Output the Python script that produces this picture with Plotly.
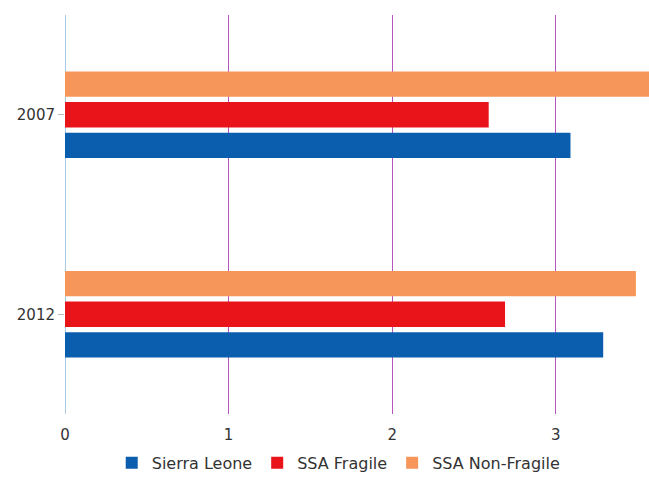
import plotly.graph_objects as go

years = ["2007", "2012"]
sierra_leone = [3.09, 3.29]
ssa_fragile = [2.59, 2.69]
ssa_non_fragile = [3.70, 3.49]

series = [
    ("Sierra Leone", sierra_leone, "#0B5DAE"),
    ("SSA Fragile", ssa_fragile, "#E8141A"),
    ("SSA Non-Fragile", ssa_non_fragile, "#F7965A"),
]

fig = go.Figure()
for name, vals, color in series:
    fig.add_trace(go.Bar(
        y=years, x=vals, name=name, orientation="h",
        marker=dict(color=color, line=dict(width=0)),
    ))

fig.update_layout(
    width=649, height=480,
    margin=dict(l=65, r=0, t=15, b=66),
    paper_bgcolor="white", plot_bgcolor="white",
    barmode="group", bargap=0.54, bargroupgap=0.17,
    font=dict(family="DejaVu Sans, sans-serif", size=14, color="#333333"),
    showlegend=True,
    legend=dict(orientation="h", x=0.08, xanchor="left", y=-0.08, yanchor="top",
                font=dict(size=16, color="#333333"), itemwidth=30),
    xaxis=dict(
        range=[0, 3.57], dtick=1, tick0=0,
        showgrid=True, gridcolor="#B655BE", gridwidth=1.3,
        zeroline=True, zerolinecolor="#A9CBEA", zerolinewidth=1.3,
        showline=False, ticks="outside", ticklen=7, tickcolor="rgba(0,0,0,0)",
        tickfont=dict(size=15),
        fixedrange=True,
    ),
    yaxis=dict(
        categoryorder="array", categoryarray=["2012", "2007"],
        showgrid=False, zeroline=False, showline=False,
        ticks="outside", ticklen=6, tickcolor="#BBBBBB",
        tickfont=dict(size=15),
    ),
)

fig.write_html("out.html")
